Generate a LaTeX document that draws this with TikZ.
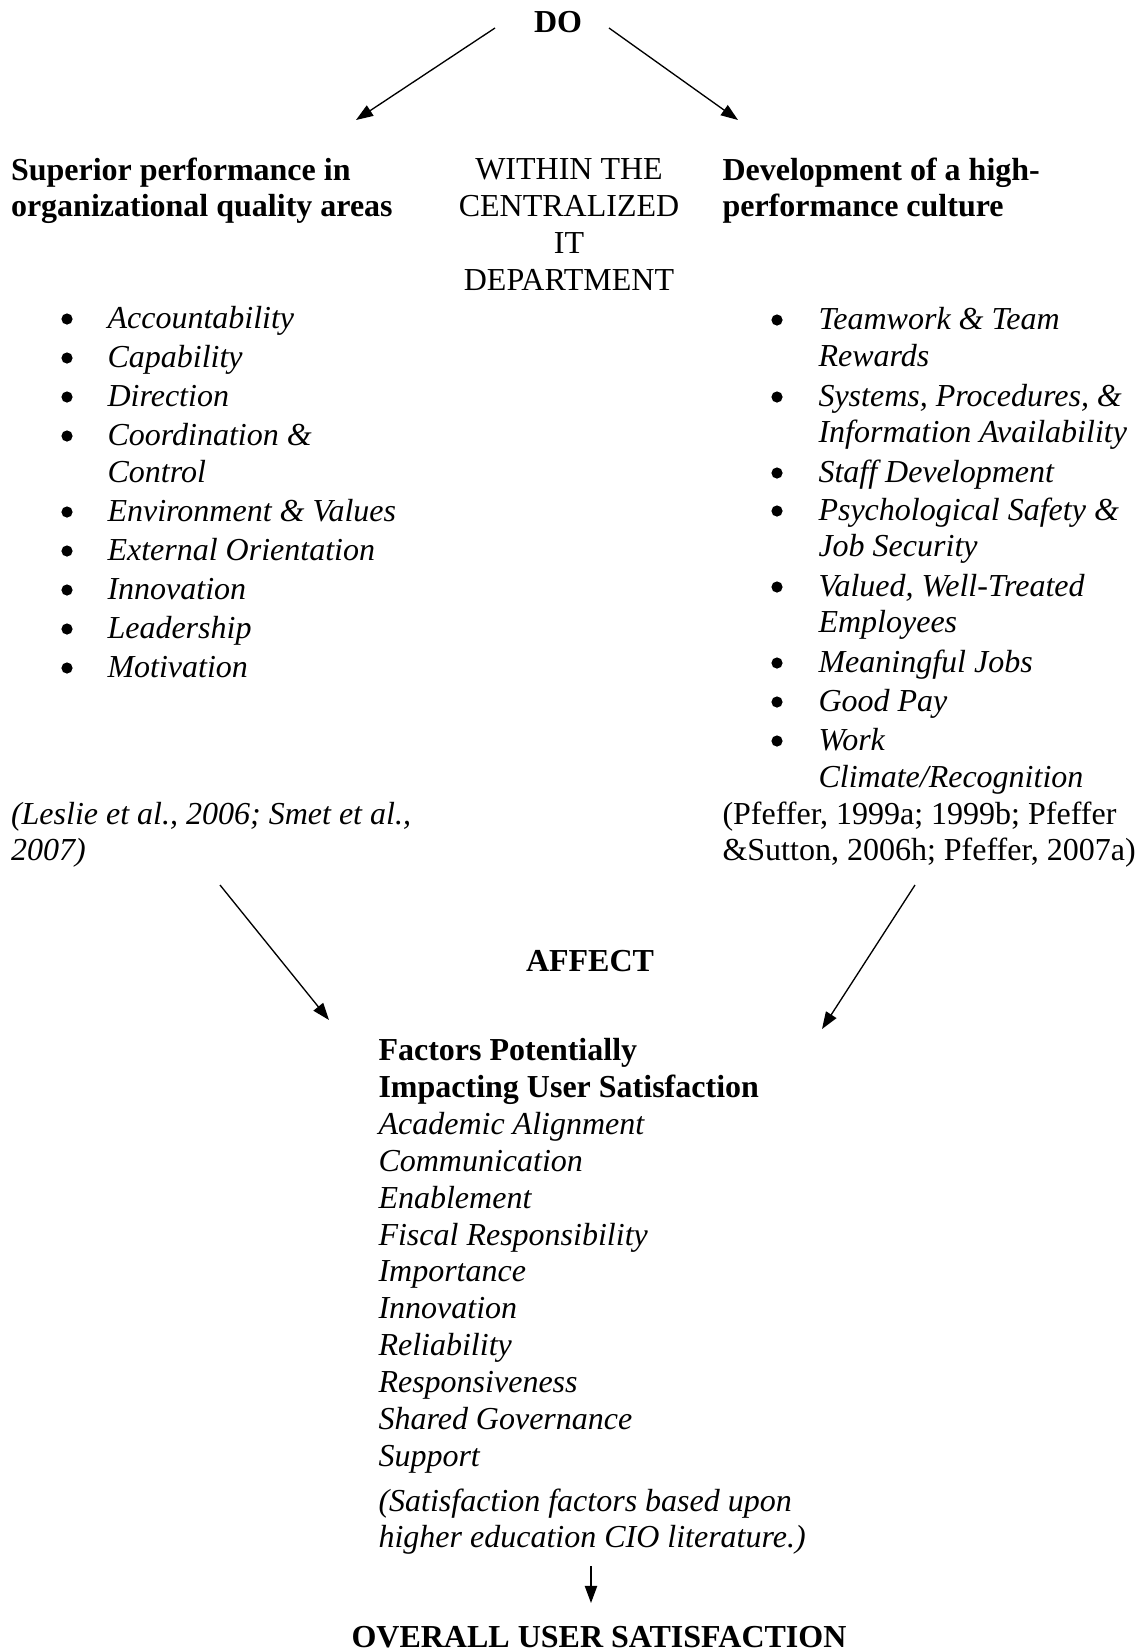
\documentclass[tikz,border=0pt,12pt]{standalone}
\usepackage{fontspec}
\setmainfont{Liberation Serif}
\usetikzlibrary{arrows.meta}
\begin{document}
\begin{tikzpicture}[x=0.375pt,y=-0.375pt,every node/.style={inner sep=0pt,anchor=base west},
    hd/.style={font=\bfseries},it/.style={font=\itshape},
    dot/.style={circle,fill,inner sep=0pt,minimum size=4.2pt,anchor=center},
    arr/.style={-{Triangle[length=6.4pt,width=4.6pt]},line width=0.5pt}]
\useasboundingbox (0,0) rectangle (1141,1650);
% top of the figure
\path (558,32) node[hd,anchor=base](do){DO};
\path (10.5,180) node[hd](sup1){Superior performance in} (10.5,216.5) node[hd](sup2){organizational quality areas};
\path (722,180) node[hd](dev1){Development of a high-} (722,216.5) node[hd](dev2){performance culture};
\foreach \y/\gt[count=\i] in {179/WITHIN THE,216/CENTRALIZED,253/IT,290/DEPARTMENT}\path (569,\y) node[anchor=base](c\i){\gt};
\coordinate (doL) at (495,28); \coordinate (doR) at (609,28);
\coordinate (supT) at (356,120); \coordinate (devT) at (738,120);
\draw[arr] (doL)--(supT);
\draw[arr] (doR)--(devT);
% left list
\foreach \y/\gt[count=\i] in {328/Accountability,367/Capability,406/Direction,445/Coordination \&,482/Control,521/Environment \& Values,560/External Orientation,599/Innovation,638/Leadership,677/Motivation}\path (107,\y) node[it](l\i){\gt};
\foreach \y[count=\i] in {328,367,406,445,521,560,599,638,677}\path (67,\y-9) node[dot](lb\i){};
\path (10.5,824) node[it](lc1){(Leslie et al., 2006; Smet et al.,} (10.5,860) node[it](lc2){2007)};
% right list
\foreach \y/\gt[count=\i] in {329/Teamwork \& Team,366/Rewards,406/{Systems, Procedures, \&},442/Information Availability,482/Staff Development,520/Psychological Safety \&,556/Job Security,596/{Valued, Well-Treated},632/Employees,672/Meaningful Jobs,711/Good Pay,750/Work,787/{Climate/Recognition}}\path (818,\y) node[it](r\i){\gt};
\foreach \y[count=\i] in {329,406,482,520,596,672,711,750}\path (777,\y-9) node[dot](rb\i){};
\path (722,824) node(rc1){(Pfeffer, 1999a; 1999b; Pfeffer} (722,860) node(rc2){\&Sutton, 2006h; Pfeffer, 2007a)};
% lower part
\coordinate (lcB) at (220,885); \coordinate (rcB) at (915,885);
\coordinate (facL) at (329,1020); \coordinate (facR) at (822,1029);
\draw[arr] (lcB)--(facL);
\draw[arr] (rcB)--(facR);
\path (590,971) node[hd,anchor=base](aff){AFFECT};
\path (378,1060) node[hd](f1){Factors Potentially} (378,1097) node[hd](f2){Impacting User Satisfaction};
\foreach \y/\gt[count=\i] in {1134/Academic Alignment,1171/Communication,1208/Enablement,1245/Fiscal Responsibility,1281.5/Importance,1318/Innovation,1355/Reliability,1392/Responsiveness,1429/Shared Governance,1466/Support,1511/(Satisfaction factors based upon,1547.5/higher education CIO literature.)}\path (378,\y) node[it](f\i x){\gt};
\path (599,1647) node[hd,anchor=base](all){OVERALL USER SATISFACTION};
\coordinate (fB) at (591,1566); \coordinate (allT) at (591,1603);
\draw[arr] (fB)--(allT);
\end{tikzpicture}
\end{document}
